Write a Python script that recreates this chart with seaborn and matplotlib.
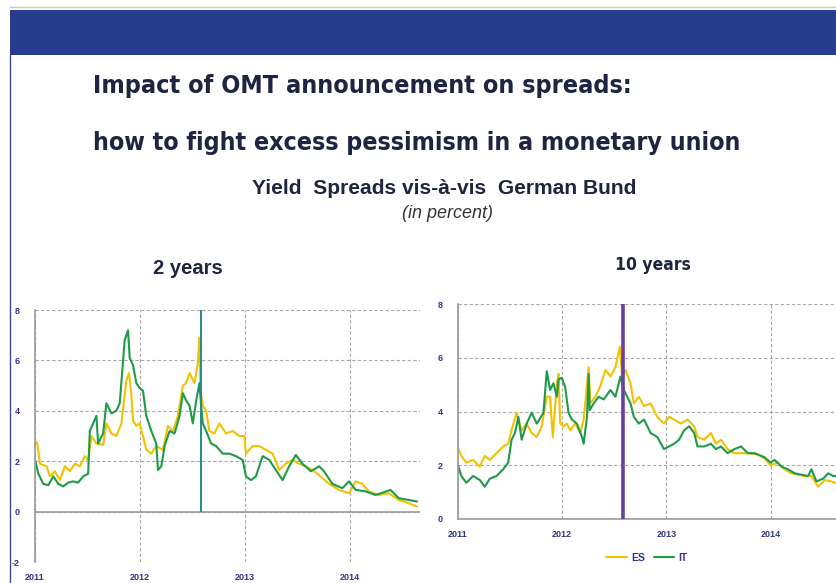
import pandas as pd
import matplotlib
matplotlib.use("Agg")
import matplotlib.pyplot as plt
import matplotlib.font_manager as fm
import seaborn as sns
from matplotlib.patches import Rectangle
from matplotlib.lines import Line2D

# ---- data (decimal years, spread in percent) ----
t_2y_it = [2011.000, 2011.032, 2011.079, 2011.127, 2011.174, 2011.222, 2011.269, 2011.316,
           2011.364, 2011.411, 2011.459, 2011.506, 2011.522, 2011.554, 2011.585, 2011.601,
           2011.649, 2011.680, 2011.728, 2011.775, 2011.807, 2011.854, 2011.886, 2011.902,
           2011.934, 2011.965, 2011.997, 2012.028, 2012.060, 2012.108, 2012.155, 2012.171,
           2012.203, 2012.234, 2012.282, 2012.329, 2012.377, 2012.408, 2012.440, 2012.472,
           2012.503, 2012.535, 2012.566, 2012.582, 2012.598, 2012.630, 2012.677, 2012.725,
           2012.788, 2012.851, 2012.915, 2012.978, 2013.009, 2013.057, 2013.104, 2013.168,
           2013.231, 2013.294, 2013.358, 2013.421, 2013.484, 2013.547, 2013.627, 2013.706,
           2013.753, 2013.832, 2013.927, 2013.991, 2014.054, 2014.149, 2014.244, 2014.386,
           2014.465, 2014.560, 2014.639]
it_2y = [2.05, 1.5, 1.1, 1.05, 1.4, 1.1, 1.0, 1.15,
         1.2, 1.15, 1.4, 1.5, 3.2, 3.5, 3.8, 2.7,
         3.1, 4.3, 3.9, 4.0, 4.3, 6.8, 7.2, 6.1,
         5.8, 5.1, 4.9, 4.8, 3.8, 3.2, 2.7, 1.65,
         1.8, 2.6, 3.2, 3.1, 3.8, 4.7, 4.4, 4.2,
         3.5, 4.4, 5.1, 4.2, 3.5, 3.2, 2.7, 2.6,
         2.3, 2.3, 2.2, 2.05, 1.4, 1.25, 1.4, 2.2,
         2.05, 1.65, 1.25, 1.8, 2.25, 1.9, 1.6, 1.8,
         1.6, 1.1, 0.93, 1.2, 0.86, 0.8, 0.66, 0.86,
         0.53, 0.46, 0.4]

t_2y_es = [2011.000, 2011.022, 2011.047, 2011.111, 2011.142, 2011.190, 2011.237, 2011.285,
           2011.332, 2011.380, 2011.427, 2011.475, 2011.506, 2011.538, 2011.585, 2011.649,
           2011.680, 2011.728, 2011.775, 2011.823, 2011.870, 2011.896, 2011.918, 2011.934,
           2011.965, 2011.997, 2012.028, 2012.060, 2012.108, 2012.155, 2012.218, 2012.266,
           2012.313, 2012.361, 2012.408, 2012.440, 2012.472, 2012.519, 2012.551, 2012.566,
           2012.576, 2012.598, 2012.630, 2012.661, 2012.709, 2012.756, 2012.820, 2012.883,
           2012.946, 2012.994, 2013.009, 2013.073, 2013.136, 2013.199, 2013.263, 2013.326,
           2013.389, 2013.453, 2013.516, 2013.579, 2013.642, 2013.706, 2013.801, 2013.896,
           2013.991, 2014.054, 2014.117, 2014.180, 2014.275, 2014.370, 2014.465, 2014.560,
           2014.639]
es_2y = [2.8, 2.7, 1.9, 1.8, 1.4, 1.6, 1.25, 1.8,
         1.6, 1.9, 1.8, 2.2, 2.05, 3.0, 2.7, 2.65,
         3.5, 3.1, 3.0, 3.5, 5.2, 5.5, 4.6, 3.6,
         3.4, 3.5, 3.0, 2.45, 2.3, 2.6, 2.45, 3.4,
         3.2, 3.8, 5.0, 5.1, 5.5, 5.1, 5.9, 6.9,
         4.8, 4.2, 4.0, 3.2, 3.1, 3.5, 3.1, 3.2,
         3.0, 3.0, 2.3, 2.6, 2.6, 2.45, 2.3, 1.65,
         1.9, 2.05, 1.9, 1.8, 1.65, 1.45, 1.1, 0.86,
         0.73, 1.2, 1.1, 0.8, 0.66, 0.73, 0.46, 0.33,
         0.2]

t_10y_it = [2011.000, 2011.032, 2011.080, 2011.145, 2011.209, 2011.257, 2011.305, 2011.370,
            2011.434, 2011.482, 2011.514, 2011.547, 2011.579, 2011.611, 2011.659, 2011.707,
            2011.756, 2011.820, 2011.852, 2011.884, 2011.916, 2011.949, 2011.965, 2011.997,
            2012.029, 2012.061, 2012.093, 2012.141, 2012.190, 2012.206, 2012.238, 2012.254,
            2012.264, 2012.302, 2012.350, 2012.399, 2012.463, 2012.511, 2012.559, 2012.592,
            2012.624, 2012.656, 2012.688, 2012.736, 2012.785, 2012.849, 2012.913, 2012.977,
            2013.026, 2013.074, 2013.122, 2013.170, 2013.219, 2013.267, 2013.299, 2013.363,
            2013.428, 2013.476, 2013.524, 2013.588, 2013.653, 2013.717, 2013.781, 2013.846,
            2013.942, 2014.000, 2014.039, 2014.103, 2014.167, 2014.232, 2014.296, 2014.360,
            2014.392, 2014.441, 2014.505, 2014.553, 2014.601, 2014.653]
it_10y = [2.0, 1.6, 1.35, 1.6, 1.45, 1.2, 1.5, 1.6,
          1.85, 2.1, 2.95, 3.2, 3.8, 2.95, 3.55, 3.95,
          3.55, 3.95, 5.5, 4.8, 5.05, 4.55, 5.2, 5.25,
          4.9, 3.95, 3.7, 3.55, 3.05, 2.8, 3.8, 5.4,
          4.05, 4.3, 4.55, 4.45, 4.8, 4.55, 5.3, 4.8,
          4.55, 4.3, 3.8, 3.55, 3.7, 3.2, 3.05, 2.6,
          2.7, 2.8, 2.95, 3.3, 3.45, 3.2, 2.7, 2.7,
          2.8, 2.6, 2.7, 2.45, 2.6, 2.7, 2.45, 2.45,
          2.3, 2.1, 2.2, 1.95, 1.85, 1.7, 1.65, 1.6,
          1.85, 1.4, 1.5, 1.7, 1.6, 1.6]

t_10y_es = [2011.000, 2011.032, 2011.080, 2011.145, 2011.209, 2011.257, 2011.305, 2011.370,
            2011.434, 2011.482, 2011.514, 2011.563, 2011.611, 2011.659, 2011.707, 2011.756,
            2011.804, 2011.852, 2011.884, 2011.910, 2011.949, 2011.965, 2011.981, 2012.013,
            2012.045, 2012.077, 2012.125, 2012.174, 2012.206, 2012.254, 2012.270, 2012.318,
            2012.367, 2012.415, 2012.463, 2012.511, 2012.553, 2012.576, 2012.608, 2012.656,
            2012.688, 2012.736, 2012.785, 2012.849, 2012.913, 2012.977, 2013.026, 2013.074,
            2013.138, 2013.203, 2013.267, 2013.299, 2013.363, 2013.428, 2013.476, 2013.524,
            2013.588, 2013.653, 2013.717, 2013.781, 2013.878, 2013.942, 2014.000, 2014.071,
            2014.135, 2014.199, 2014.264, 2014.328, 2014.392, 2014.457, 2014.521, 2014.585,
            2014.653]
es_10y = [2.65, 2.35, 2.1, 2.2, 1.95, 2.35, 2.2, 2.45,
          2.7, 2.8, 3.3, 3.95, 3.3, 3.55, 3.2, 3.05,
          3.45, 4.55, 4.55, 3.05, 5.05, 5.4, 3.55, 3.45,
          3.55, 3.3, 3.55, 3.2, 3.7, 5.65, 4.3, 4.55,
          4.95, 5.55, 5.3, 5.65, 6.4, 5.3, 5.55, 5.05,
          4.3, 4.55, 4.2, 4.3, 3.8, 3.55, 3.8, 3.7,
          3.55, 3.7, 3.45, 3.05, 2.95, 3.2, 2.8, 2.95,
          2.6, 2.45, 2.45, 2.45, 2.4, 2.25, 2.0, 2.1,
          1.85, 1.7, 1.65, 1.6, 1.6, 1.2, 1.45, 1.4,
          1.3]

omt_date = 2012.58
year_ticks = [2011, 2012, 2013, 2014]
countries = ["ES", "IT"]

# ---- style ----
sns.set_style("white")
plt.rcParams["font.family"] = ["Liberation Sans", "DejaVu Sans"]
palette = {"ES": "#f2c200", "IT": "#1e9a48"}
TICK_COL = "#34358a"
GRID_COL = "#a8a8a8"
TITLE_COL = "#1d2540"

# the slide uses a condensed face for the headline; use one if there is one
narrow_props = dict(family="Liberation Sans")
cond = fm.findfont(fm.FontProperties(family="DejaVu Sans", stretch="condensed", weight="bold"),
                   fallback_to_default=True)
if "Condensed" in cond:
    narrow_props = dict(family="DejaVu Sans", stretch="condensed")

W, H = 837, 583
fig = plt.figure(figsize=(W / 100, H / 100), dpi=100)
renderer = fig.canvas.get_renderer()


def fx(px):
    return px / W


def fy(py):
    return 1 - py / H


def fit_width(txt, target_px):
    # shrink/grow a text so it spans the same width as on the slide
    w = txt.get_window_extent(renderer).width
    txt.set_fontsize(txt.get_fontsize() * target_px / w)


# slide frame: banner, top rule and left border
fig.patches.append(Rectangle((fx(10), fy(55)), 1, 45 / H, transform=fig.transFigure,
                             facecolor="#283c8e", edgecolor="none", zorder=0))
fig.add_artist(Line2D([fx(10), 1], [fy(7), fy(7)], color="#c9c9c9", lw=1.0))
fig.add_artist(Line2D([fx(10.5), fx(10.5)], [0, fy(55)], color="#3a4a8c", lw=1.0))

# ---- titles ----
t1 = fig.text(fx(93), fy(86), "Impact of OMT announcement on spreads:", fontsize=23,
              fontweight="bold", color=TITLE_COL, va="center", ha="left", **narrow_props)
t2 = fig.text(fx(93), fy(143), "how to fight excess pessimism in a monetary union", fontsize=23,
              fontweight="bold", color=TITLE_COL, va="center", ha="left", **narrow_props)
fit_width(t1, 539)
fit_width(t2, 649)
sub = fig.text(fx(444), fy(188), "Yield  Spreads vis-à-vis  German Bund", fontsize=14,
               fontweight="bold", color=TITLE_COL, ha="center", va="center")
fit_width(sub, 384)
fig.text(fx(447), fy(213), "(in percent)", fontsize=13, style="italic",
         color="#333333", ha="center", va="center")
fig.text(fx(188), fy(268), "2 years", fontsize=14.5, fontweight="bold",
         color=TITLE_COL, ha="center", va="center")
fig.text(fx(653), fy(265), "10 years", fontsize=12.5, fontweight="bold",
         color=TITLE_COL, ha="center", va="center", **narrow_props)


def make_frame(t_es, v_es, t_it, v_it):
    return pd.concat([
        pd.DataFrame({"year": t_es, "spread": v_es, "country": "ES"}),
        pd.DataFrame({"year": t_it, "spread": v_it, "country": "IT"}),
    ], ignore_index=True)


def style_axis(ax, ymin, ymax, yticks):
    ax.set_xlim(2011, 2014 + 2 / 3)
    ax.set_ylim(ymin, ymax)
    ax.set_xticks(year_ticks)
    ax.set_xticklabels([str(y) for y in year_ticks])
    ax.set_yticks(yticks)
    ax.set_yticklabels([str(v) for v in yticks])
    ax.tick_params(length=0, labelsize=6.5, labelcolor=TICK_COL)
    ax.tick_params(axis="y", pad=11)
    ax.tick_params(axis="x", pad=8)
    for lab in ax.get_xticklabels() + ax.get_yticklabels():
        lab.set_fontweight("bold")
    ax.grid(True, ls=(0, (3, 2)), color=GRID_COL, lw=0.8)
    for s in ["top", "right"]:
        ax.spines[s].set_visible(False)
    ax.spines["left"].set_color("#9a9a9a")
    ax.spines["left"].set_linewidth(1.2)
    ax.set_xlabel("")
    ax.set_ylabel("")


# ---- 2 years ----
ax1 = fig.add_axes([fx(35), fy(562), fx(385), 252 / H])
df2 = make_frame(t_2y_es, es_2y, t_2y_it, it_2y)
sns.lineplot(data=df2, x="year", y="spread", hue="country", hue_order=countries,
             palette=palette, lw=1.5, legend=False, ax=ax1, estimator=None)
style_axis(ax1, -2, 8, [-2, 0, 2, 4, 6, 8])
ax1.spines["bottom"].set_visible(False)
ax1.axhline(0, color="#9a9a9a", lw=1.2, zorder=1)
ax1.vlines(omt_date, 0, 8, color="#1f8c8c", lw=1.4, zorder=5)

# ---- 10 years ----
ax2 = fig.add_axes([fx(458), fy(519), 382 / W, 215 / H])
df10 = make_frame(t_10y_es, es_10y, t_10y_it, it_10y)
sns.lineplot(data=df10, x="year", y="spread", hue="country", hue_order=countries,
             palette=palette, lw=1.5, ax=ax2, estimator=None)
style_axis(ax2, 0, 8, [0, 2, 4, 6, 8])
ax2.spines["bottom"].set_color("#9a9a9a")
ax2.spines["bottom"].set_linewidth(1.2)
ax2.vlines(omt_date, 0, 8, color="#6b3fa0", lw=2.6, zorder=5)
sns.move_legend(ax2, "center", bbox_to_anchor=(0.495, -0.18), ncol=2, frameon=False,
                title=None, fontsize=7.5, handlelength=2.0, handletextpad=0.4,
                columnspacing=0.8)
for txt in ax2.get_legend().get_texts():
    txt.set_color(TICK_COL)
    txt.set_fontweight("bold")

plt.savefig("out.png", dpi=100)
print("saved out.png")
